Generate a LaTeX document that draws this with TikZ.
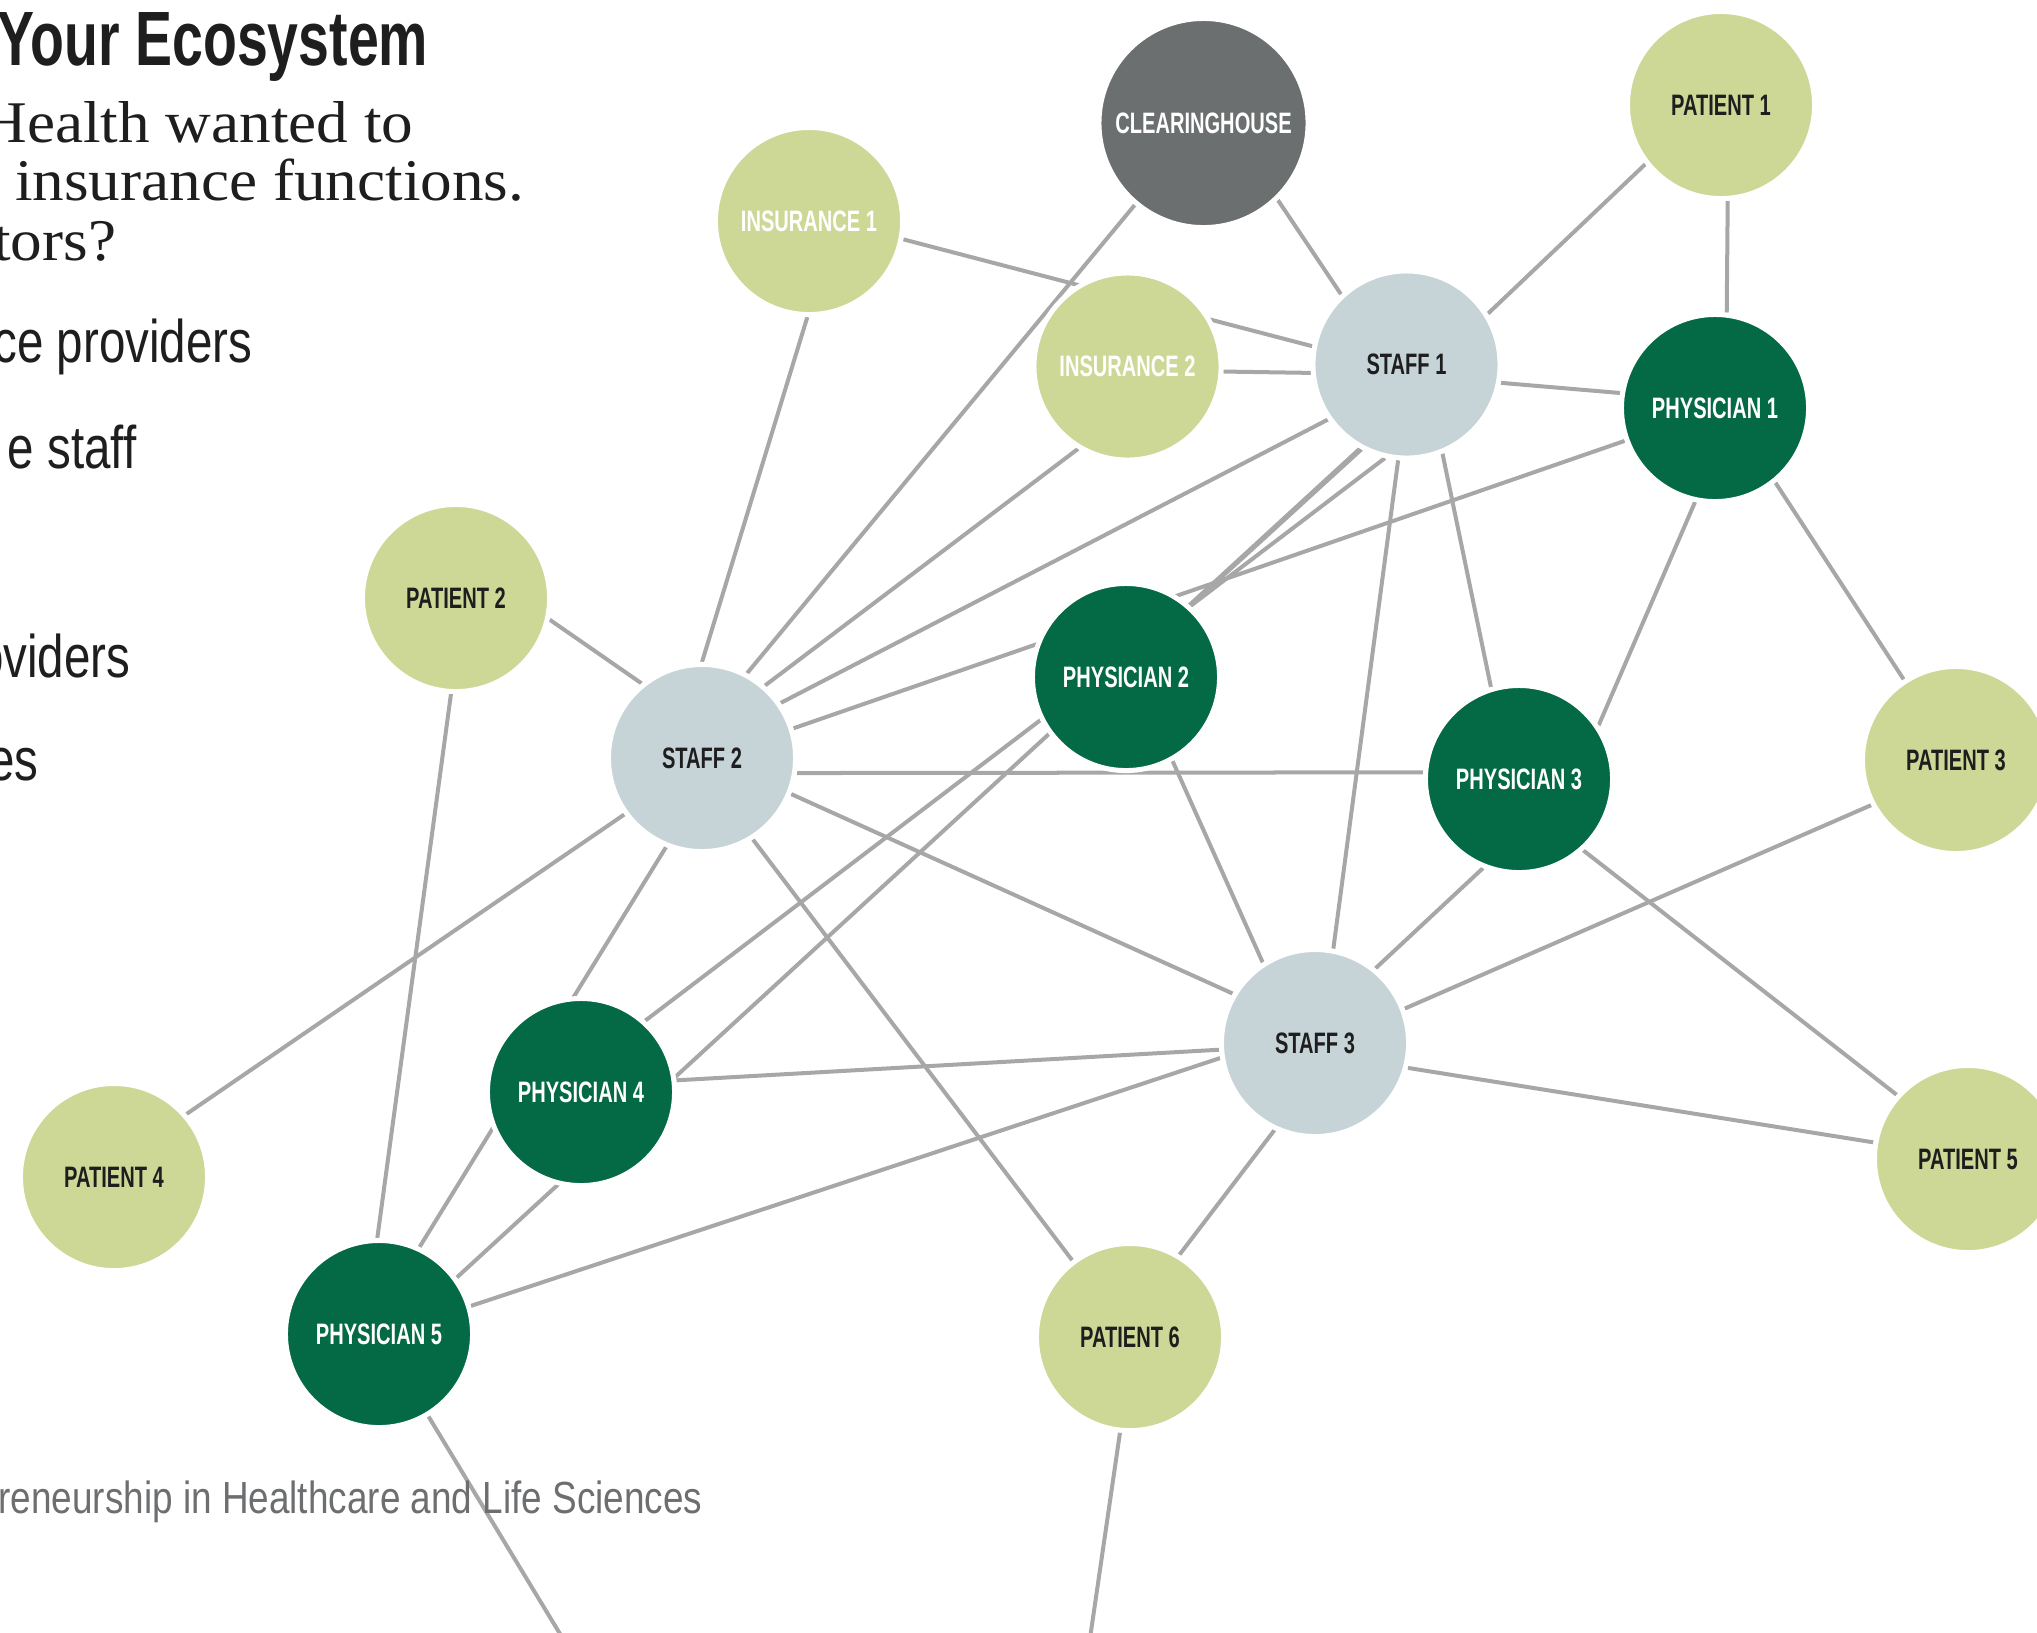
\documentclass[tikz,border=0pt]{standalone}
\usepackage{fontspec}
\usepackage{graphicx}
\setmainfont{Liberation Serif}
\newfontfamily\condfont{Liberation Sans}
\usetikzlibrary{backgrounds}
\definecolor{lgreen}{HTML}{CDD897}
\definecolor{dgreen}{HTML}{046A46}
\definecolor{staffc}{HTML}{C6D4D8}
\definecolor{chgray}{HTML}{6C6F6F}
\definecolor{linec}{HTML}{A7A7A7}
\definecolor{ink}{HTML}{1E1E1E}
\definecolor{footc}{HTML}{6D6E70}
\newcommand{\lbl}[1]{\scalebox{0.68}[1]{\condfont\bfseries\fontsize{8.4}{10}\selectfont #1}}
\tikzset{
  basecirc/.style={circle, minimum size=1.87cm, inner sep=0pt, draw=white, line width=0.5mm},
  patient/.style={basecirc, fill=lgreen, text=ink},
  insur/.style={basecirc, fill=lgreen, text=white},
  staff/.style={basecirc, fill=staffc, text=ink},
  phys/.style={basecirc, fill=dgreen, text=white},
  clear/.style={basecirc, fill=chgray, text=white, minimum size=2.09cm},
  link/.style={draw=linec, line width=0.4mm},
  txt/.style={anchor=base east, inner sep=0pt, text=ink},
}
\begin{document}
\begin{tikzpicture}[x=0.01cm, y=-0.01cm]
\useasboundingbox (0,0) rectangle (2037,1632);
\clip (0,0) rectangle (2037,1632);

% text
\node[txt] (title) at (429,65) {\scalebox{0.72}[1]{\condfont\bfseries\fontsize{21.9}{24}\selectfont Your Ecosystem}};
\node[txt] (q1) at (414,142) {\scalebox{1.07}[1]{\fontsize{16.8}{20}\selectfont Health wanted to}};
\node[txt] (q2) at (525,200) {\scalebox{1.07}[1]{\fontsize{16.8}{20}\selectfont insurance functions.}};
\node[txt] (q3) at (117,260) {\scalebox{1.07}[1]{\fontsize{16.8}{20}\selectfont tors?}};
\node[txt] (b1) at (253,362) {\scalebox{0.79}[1]{\condfont\fontsize{17.1}{20}\selectfont ce providers}};
\node[txt] (b2) at (137,468) {\scalebox{0.79}[1]{\condfont\fontsize{17.1}{20}\selectfont e staff}};
\node[txt] (b3) at (131,677) {\scalebox{0.79}[1]{\condfont\fontsize{17.1}{20}\selectfont oviders}};
\node[txt] (b4) at (39,780) {\scalebox{0.79}[1]{\condfont\fontsize{17.1}{20}\selectfont es}};
\node[txt, text=footc] (foot) at (703,1513) {\scalebox{0.82}[1]{\condfont\fontsize{12.8}{15}\selectfont reneurship in Healthcare and Life Sciences}};

% nodes
\node[clear]   (ch)  at (1203.5,123)  {\lbl{CLEARINGHOUSE}};
\node[patient] (pa1) at (1721,105)    {\lbl{PATIENT 1}};
\node[insur]   (in1) at (809,221)     {\lbl{INSURANCE 1}};
\node[insur]   (in2) at (1127.5,366.5){\lbl{INSURANCE 2}};
\node[staff]   (st1) at (1406.5,364.5){\lbl{STAFF 1}};
\node[phys]    (ph1) at (1715,408)    {\lbl{PHYSICIAN 1}};
\node[patient] (pa2) at (456,598)     {\lbl{PATIENT 2}};
\node[phys]    (ph2) at (1126,677)    {\lbl{PHYSICIAN 2}};
\node[staff]   (st2) at (702,758)     {\lbl{STAFF 2}};
\node[phys]    (ph3) at (1519,779)    {\lbl{PHYSICIAN 3}};
\node[patient] (pa3) at (1956,760)    {\lbl{PATIENT 3}};
\node[staff]   (st3) at (1315,1043)   {\lbl{STAFF 3}};
\node[phys]    (ph4) at (581,1092)    {\lbl{PHYSICIAN 4}};
\node[patient] (pa4) at (114,1177)    {\lbl{PATIENT 4}};
\node[patient] (pa5) at (1968,1159)   {\lbl{PATIENT 5}};
\node[phys]    (ph5) at (379,1334)    {\lbl{PHYSICIAN 5}};
\node[patient] (pa6) at (1130,1337)   {\lbl{PATIENT 6}};
\coordinate (offa) at (600,1700);
\coordinate (offb) at (1081,1700);

\begin{scope}[on background layer]
\draw[link] (ch.-46) -- (st1.133);
\draw[link] (ch.-130) -- (st2.62);
\draw[link] (pa1.-142) -- (st1.32);
\draw[link] (pa1.-86) -- (ph1.83);
\draw[link] (in1.-11.5) -- (st1.169);
\draw[link] (in1.-91.5) -- (st2.90.4);
\draw[link] (in2.-3) -- (st1.185);
\draw[link] (in2.-121.6) -- (st2.49.8);
\draw[link] (st1.-11.2) -- (ph1.171.3);
\draw[link] (st1.-145.8) -- (st2.35.3);
\draw[link] (st1.-118) -- (ph2.48.3);
\draw[link] (st1.-119) -- (ph5.36.8);
\draw[link] (st1.-103) -- (ph4.48);
\draw[link] (ph1.-160.7) -- (st2.18.7);
\draw[link] (st1.-95.7) -- (st3.79.9);
\draw[link] (st1.-68.4) -- (ph3.107.1);
\draw[link] (ph1.-102.9) -- (ph3.34.9);
\draw[link] (ph1.-51.2) -- (pa3.123.1);
\draw[link] (pa2.-13.1) -- (st2.129.5);
\draw[link] (pa2.-93.8) -- (ph5.91.6);
\draw[link] (st2.-9.5) -- (ph3.176.5);
\draw[link] (st2.-22.3) -- (st3.149.3);
\draw[link] (st2.-112.6) -- (ph5.65.3);
\draw[link] (st2.-144.3) -- (pa4.41.2);
\draw[link] (st2.-58.5) -- (pa6.127.9);
\draw[link] (ph2.-61.6) -- (st3.123.3);
\draw[link] (ph3.-112.2) -- (st3.51.6);
\draw[link] (ph3.-48.6) -- (pa5.138.3);
\draw[link] (pa3.-152.1) -- (st3.21.8);
\draw[link] (st3.184) -- (ph4.7.3);
\draw[link] (st3.189.5) -- (ph5.17.2);
\draw[link] (st3.-15.3) -- (pa5.170.7);
\draw[link] (st3.-115.5) -- (pa6.59.3);
\draw[link] (ph5.-59.5) -- (offa);
\draw[link] (pa6.-96) -- (offb);
\end{scope}
\end{tikzpicture}
\end{document}
